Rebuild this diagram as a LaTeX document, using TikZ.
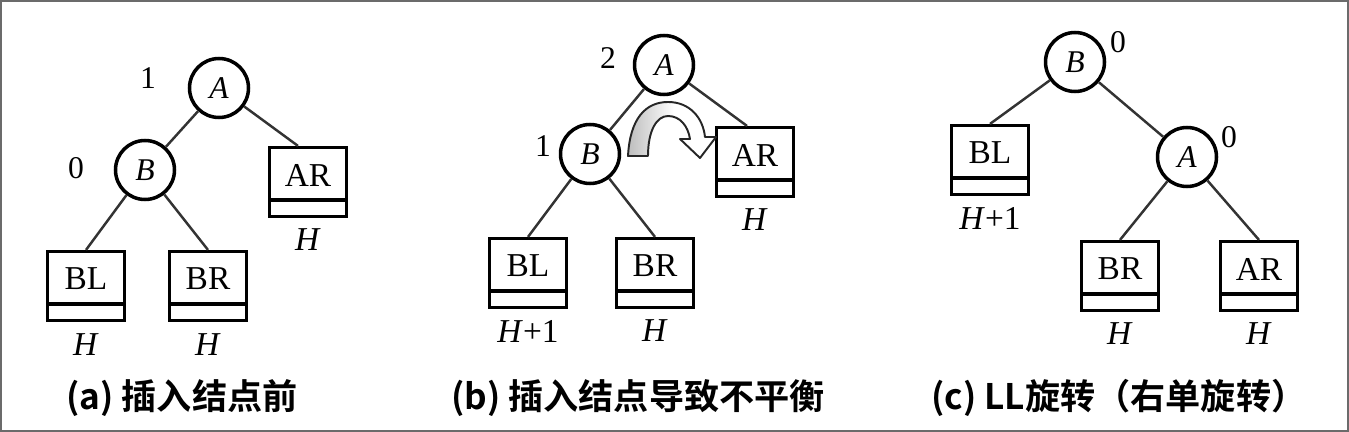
\documentclass[tikz,border=0pt]{standalone}
\usepackage{fontspec}
\setmainfont{Liberation Serif}
\newfontfamily\cjk{Noto Sans CJK SC}[BoldFont={* Bold}]

\tikzset{avl/.style={circle,draw,line width=2pt,minimum size=1.18cm,inner sep=0pt,font=\fontsize{18}{18}\selectfont\itshape},
         subtree/.style={draw,line width=1.8pt,minimum width=1.54cm,minimum height=1.38cm,inner sep=0pt,
                         path picture={\draw[line width=1.8pt] ([yshift=0.33cm]path picture bounding box.south west) -- ([yshift=0.33cm]path picture bounding box.south east);}},
         boxtext/.style={inner sep=0pt,font=\fontsize{19}{19}\selectfont},
         height/.style={inner sep=0pt,font=\fontsize{19}{19}\selectfont},
         bal/.style={inner sep=0pt,font=\fontsize{18}{18}\selectfont},
         edge/.style={line width=1.4pt,black!80},
         caption/.style={inner sep=0pt,font=\cjk\bfseries\fontsize{20}{20}\selectfont}}

% subtree box: name, position, text, height
\newcommand\subtree[4]{\node[subtree] (#1) at (#2) {};
  \node[boxtext] (#1-t) at ([yshift=0.14cm]#1.center) {#3};
  \node[height] (#1-h) at ([yshift=-0.44cm]#1.south) {#4};}

\def\turnpath{(628,156) .. controls (630,118) and (646,102) .. (668,102) .. controls (690,102) and (703,118) .. (705,137)
  -- (716,137) -- (700,158) -- (680,139) -- (690,139) .. controls (688,126) and (680,116) .. (668,116)
  .. controls (657,116) and (648,130) .. (648,156) -- cycle}

\begin{document}
\begin{tikzpicture}[x=0.02cm,y=-0.02cm]
\useasboundingbox (0,0) rectangle (1349,432);
\draw[line width=1.2pt,black!58] (1,1) rectangle (1348,431);

% (a) before insertion
\node[avl] (aA) at (219,88) {A};
\node[avl] (aB) at (145,170) {B};
\node[bal] at ([shift={(-71,-10)}]aA) {1};
\node[bal] at ([shift={(-69,-2)}]aB) {0};
\subtree{aBL}{86,286}{BL}{\textit{H}}
\subtree{aBR}{208,286}{BR}{\textit{H}}
\subtree{aAR}{308,182}{AR}{\textit{H}}
\draw[edge] (aA) -- (aB);
\draw[edge] (aA) -- ([xshift=-0.2cm]aAR.north);
\draw[edge] (aB) -- (aBL.north);
\draw[edge] (aB) -- (aBR.north);
\node[caption] (capa) at (182,398) {(a) 插入结点前};

% (b) unbalanced
\node[avl] (bA) at (664,65) {A};
\node[avl] (bB) at (590,154) {B};
\node[bal] at ([shift={(-56,-7)}]bA) {2};
\node[bal] at ([shift={(-47,-8)}]bB) {1};
\subtree{bBL}{528,273}{BL}{\textit{H}+1}
\subtree{bBR}{655,273}{BR}{\textit{H}}
\subtree{bAR}{755,162}{AR}{\textit{H}}
\draw[edge] (bA) -- (bB);
\draw[edge] (bA) -- ([xshift=-0.16cm]bAR.north);
\draw[edge] (bB) -- (bBL.north);
\draw[edge] (bB) -- (bBR.north);
\fill[white] \turnpath;
\begin{scope}
  \clip \turnpath;
  \shade[left color=black!28,right color=white] (624,95) rectangle (674,160);
\end{scope}
\draw[line width=1.1pt,line join=round,black!85] \turnpath;
\node[caption] (capb) at (638,398) {(b) 插入结点导致不平衡};

% (c) after LL rotation
\node[avl] (cB) at (1075,62) {B};
\node[avl] (cA) at (1187,157) {A};
\node[bal] at ([shift={(43,-20)}]cB) {0};
\node[bal] at ([shift={(42,-20)}]cA) {0};
\subtree{cBL}{990,160}{BL}{\textit{H}+1}
\subtree{cBR}{1120,276}{BR}{\textit{H}}
\subtree{cAR}{1259,276}{AR}{\textit{H}}
\draw[edge] (cB) -- (cBL.north);
\draw[edge] (cB) -- (cA);
\draw[edge] (cA) -- (cBR.north);
\draw[edge] (cA) -- (cAR.north);
\node[caption] (capc) at (1119,398) {(c) LL旋转（右单旋转）};
\end{tikzpicture}
\end{document}
